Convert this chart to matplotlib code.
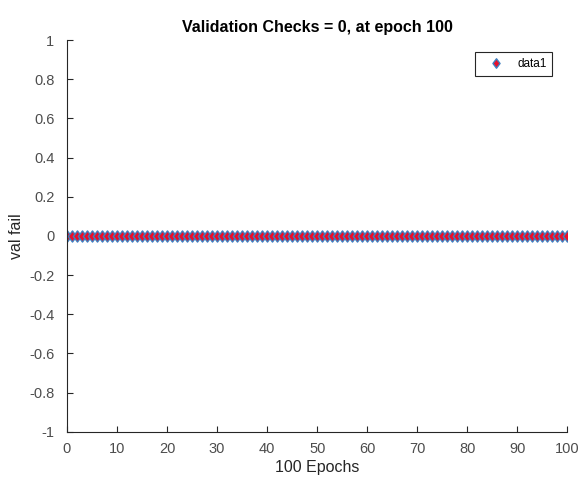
import numpy as np
import matplotlib.pyplot as plt
from matplotlib.path import Path

# validation failures per epoch (all zero)
epochs = list(range(0, 101))
val_fail = [0] * 101
xticks = [0, 10, 20, 30, 40, 50, 60, 70, 80, 90, 100]
yticks = [-1, -0.8, -0.6, -0.4, -0.2, 0, 0.2, 0.4, 0.6, 0.8, 1]
ytick_labels = ['-1', '-0.8', '-0.6', '-0.4', '-0.2', '0', '0.2', '0.4', '0.6', '0.8', '1']

plt.rcParams['font.family'] = ['Liberation Sans', 'DejaVu Sans']

# MATLAB-like diamond, a bit narrower than a square one
diamond = Path([(0, -1), (0.75, 0), (0, 1), (-0.75, 0), (0, -1)],
               [Path.MOVETO, Path.LINETO, Path.LINETO, Path.LINETO, Path.CLOSEPOLY])

fig = plt.figure(figsize=(5.82, 4.82), dpi=100)
ax = fig.add_axes([0.115, 0.104, 0.86, 0.813])

ax.plot(epochs, val_fail, linestyle='none', marker=diamond, color='#e8102a',
        markeredgecolor='#3f7fbf', markersize=8, markeredgewidth=1.0, label='data1')

ax.set_xlim(0, 100)
ax.set_ylim(-1, 1)
ax.set_xticks(xticks)
ax.set_yticks(yticks)
ax.set_yticklabels(ytick_labels)
ax.tick_params(direction='in', length=4, colors='#262626', labelcolor='#4d4d4d',
               labelsize=10.5, width=0.8)
ax.tick_params(axis='x', pad=7)
ax.tick_params(axis='y', pad=9)
for s in ['top', 'right']:
    ax.spines[s].set_visible(False)
for s in ['left', 'bottom']:
    ax.spines[s].set_color('#262626')
    ax.spines[s].set_linewidth(0.8)

ax.set_xlabel('100 Epochs', fontsize=11.5, color='#262626', labelpad=3)
ax.set_ylabel('val fail', fontsize=11.5, color='#262626', labelpad=4)
ax.set_title('Validation Checks = 0, at epoch 100', fontsize=11.5, fontweight='bold', pad=6)

leg = ax.legend(loc='upper right', bbox_to_anchor=(0.97, 0.969), borderaxespad=0,
                fontsize=8.5, fancybox=False, framealpha=1, edgecolor='#262626',
                borderpad=0.5, handletextpad=0.5, handlelength=2.6, markerscale=0.85)
leg.get_frame().set_linewidth(0.8)

fig.savefig('out.png', dpi=100)
